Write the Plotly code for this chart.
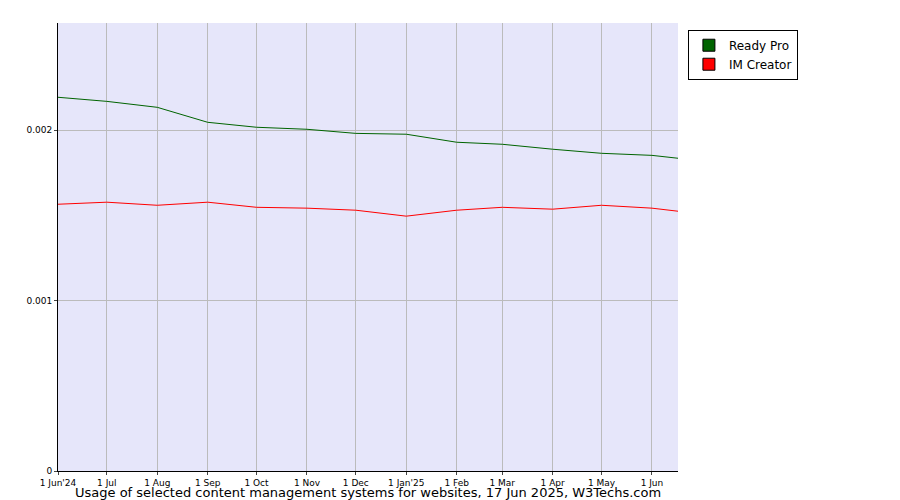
import plotly.graph_objects as go

dates = ["2024-06-01","2024-07-01","2024-08-01","2024-09-01","2024-10-01","2024-11-01","2024-12-01",
         "2025-01-01","2025-02-01","2025-03-01","2025-04-01","2025-05-01","2025-06-01","2025-06-17"]
ready_pro = [0.002194,0.00217,0.002135,0.002047,0.002018,0.002006,0.001982,0.001977,0.00193,0.001918,0.001889,0.001865,0.001853,0.001836]
im_creator = [0.001566,0.001578,0.00156,0.001578,0.001548,0.001543,0.001531,0.001496,0.001531,0.001548,0.001537,0.00156,0.001543,0.001525]
tick_vals = ["2024-06-01","2024-07-01","2024-08-01","2024-09-01","2024-10-01","2024-11-01","2024-12-01",
             "2025-01-01","2025-02-01","2025-03-01","2025-04-01","2025-05-01","2025-06-01"]
tick_text = ["1 Jun'24","1 Jul","1 Aug","1 Sep","1 Oct","1 Nov","1 Dec","1 Jan'25","1 Feb","1 Mar","1 Apr","1 May","1 Jun"]

fig = go.Figure()
fig.add_trace(go.Scatter(x=dates, y=ready_pro, name="Ready Pro", mode="lines", showlegend=False,
                         line=dict(color="#006400", width=1)))
fig.add_trace(go.Scatter(x=dates, y=im_creator, name="IM Creator", mode="lines", showlegend=False,
                         line=dict(color="#ff0000", width=1)))
fig.add_trace(go.Bar(x=[None], y=[None], name="Ready Pro", marker=dict(color="#006400", line=dict(color="black", width=1))))
fig.add_trace(go.Bar(x=[None], y=[None], name="IM Creator", marker=dict(color="#ff0000", line=dict(color="black", width=1))))
fig.update_layout(
    width=900, height=500, paper_bgcolor="white", plot_bgcolor="#e6e6fa",
    margin=dict(l=50, r=230, t=15, b=37),
    font=dict(family="DejaVu Sans", size=9, color="black"),
    showlegend=True,
    legend=dict(x=1.016, y=0.985, xanchor="left", yanchor="top", bordercolor="black", borderwidth=1,
                font=dict(size=12), tracegroupgap=0, itemwidth=30, itemclick=False),
    annotations=[dict(text="Usage of selected content management systems for websites, 17 Jun 2025, W3Techs.com",
                      x=0.5, y=-0.027, xref="paper", yref="paper", yanchor="top", showarrow=False,
                      font=dict(size=13))],
)
fig.update_xaxes(range=["2024-06-01","2025-06-17"], tickvals=tick_vals, ticktext=tick_text, tickangle=0,
                 showgrid=True, gridcolor="#bbbbbb", ticks="outside", ticklen=3, showline=True, linecolor="black",
                 automargin=False)
fig.update_yaxes(range=[0,0.00263], tickvals=[0,0.001,0.002], ticktext=["0","0.001","0.002"],
                 showgrid=True, gridcolor="#bbbbbb", ticks="outside", ticklen=3, showline=True, linecolor="black",
                 zeroline=False, automargin=False)
fig.write_html("out.html")
